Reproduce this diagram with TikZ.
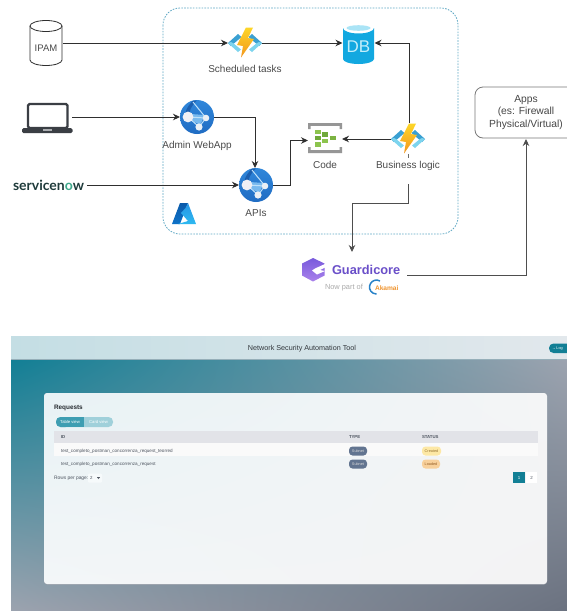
\documentclass[tikz,border=0pt]{standalone}
\usepackage{fontspec}
\setmainfont{Liberation Sans}
\newfontfamily\snfont{Lato}
\usetikzlibrary{arrows.meta,shadings}
\newcommand{\fsz}[1]{\fontsize{#1}{#1}\selectfont}
\definecolor{linegray}{HTML}{2F2F2F}
\definecolor{txt}{HTML}{4A4A4A}
\definecolor{dashblue}{HTML}{5FA8C4}
\definecolor{teal}{HTML}{127F95}
\definecolor{snow}{HTML}{1F3B3B}
\definecolor{snowgreen}{HTML}{3FA98C}
\definecolor{gpurple}{HTML}{6A4FC9}
\definecolor{rowtxt}{HTML}{4E5560}
\definecolor{hdrl}{HTML}{C4DEE4}
\definecolor{hdrr}{HTML}{E2E8EC}
\definecolor{bgur}{HTML}{9CA3AF}
\definecolor{bgll}{HTML}{9CA3AF}
\definecolor{bglr}{HTML}{6B7280}
\definecolor{panul}{HTML}{E8F2F5}
\definecolor{panur}{HTML}{F4F5F6}
\definecolor{panll}{HTML}{F3F6F8}
\definecolor{panlr}{HTML}{F3F3F4}
\tikzset{
  every node/.style={font=\fsz{10}, text=txt, inner sep=0pt, outer sep=0pt},
  conn/.style={draw=linegray, line width=0.9pt, -{Stealth[length=7pt,width=6.5pt]}},
  iconbox/.style={draw=none},
  tiny/.style={font=\fsz{4.6}, text=rowtxt},
  tinyb/.style={font=\bfseries\fsz{4.3}, text=rowtxt},
  pill/.style={rounded corners=3.5pt, minimum height=9pt, font=\fsz{3.8}},
  fnicon/.pic={
    \fill[fill={rgb,255:red,58;green,160;blue,210}] (-7,-9) -- (-17,0) -- (-14,3) -- (-3.5,-6) -- cycle;
    \fill[fill={rgb,255:red,125;green,212;blue,238}] (-17,0) -- (-7,9) -- (-4,6.5) -- (-12,0) -- (-14,-1) -- cycle;
    \fill[fill={rgb,255:red,58;green,160;blue,210}] (7,-9) -- (17,0) -- (14,3) -- (3.5,-6) -- cycle;
    \fill[fill={rgb,255:red,125;green,212;blue,238}] (17,0) -- (7,9) -- (4,6.5) -- (12,0) -- (14,-1) -- cycle;
    \shade[top color={rgb,255:red,253;green,214;blue,40}, bottom color={rgb,255:red,243;green,150;blue,30}]
      (1,-15.5) -- (-8,2) -- (-2,3) -- (-4,14.5) -- (9,-4) -- (3,-5) -- (8,-15.5) -- cycle;
  },
  webicon/.pic={
    \shade[top color={rgb,255:red,48;green,135;blue,218}, bottom color={rgb,255:red,32;green,108;blue,195}] (0,0) circle (17);
    \fill[fill={rgb,255:red,28;green,95;blue,175}] (-4,-16.5) .. controls (-12,-8) and (-12,-4) .. (-11,0) -- (-8,0) .. controls (-8,-6) and (-6,-11) .. (0,-16.5) -- cycle;
    \fill[fill={rgb,255:red,120;green,185;blue,238}] (-6,-3) -- (8,-2) -- (3,8) -- (-6,3) -- cycle;
    \draw[draw={rgb,255:red,190;green,225;blue,250}, line width=1pt] (-9,0) -- (9,1) -- (2,10) -- cycle;
    \draw[draw={rgb,255:red,190;green,225;blue,250}, line width=1pt] (-4,-15) -- (9,1);
    \fill[fill={rgb,255:red,240;green,240;blue,245}] (-9,0) circle (5.4);
    \fill[fill={rgb,255:red,235;green,240;blue,245}] (9,1) circle (3.3);
    \fill[fill={rgb,255:red,235;green,240;blue,245}] (2,10) circle (3.6);
  },
}
\begin{document}
\begin{tikzpicture}[x=1pt,y=-1pt]
\useasboundingbox (0,0) rectangle (567,611);
\fill[white] (0,0) rectangle (567,611);

% ---- container
\draw[draw=dashblue, line width=0.8pt, dash pattern=on 1.6pt off 1.3pt, rounded corners=17pt] (163,8) rectangle (458,234);

% ---- icon anchor nodes
\node[iconbox, minimum width=33pt, minimum height=45pt] (ipam) at (46,43) {};
\node[iconbox, minimum width=34pt, minimum height=34pt] (fna) at (245,43) {};
\node[iconbox, minimum width=32pt, minimum height=42pt] (db) at (358.5,43) {};
\node[iconbox, minimum width=50pt, minimum height=32pt] (laptop) at (47,118) {};
\node[iconbox, minimum width=34pt, minimum height=34pt] (admin) at (197,117) {};
\node[iconbox, minimum width=34pt, minimum height=34pt] (apis) at (256,185) {};
\node[iconbox, minimum width=34pt, minimum height=31pt] (code) at (325,139) {};
\node[iconbox, minimum width=34pt, minimum height=34pt] (biz) at (408,139) {};

% ---- IPAM cylinder
\draw[draw=linegray, fill=white, line width=0.8pt] (30,26) -- (30,60) arc[start angle=180,end angle=0,x radius=16,y radius=5.5] -- (62,26);
\draw[draw=linegray, fill=white, line width=0.8pt] (46,26) ellipse (16 and 5.5);
\node[font=\fsz{9.5}] (ipamtext) at (46,48.5) {IPAM};

% ---- functions
\pic at (fna) {fnicon};
\pic at (biz) {fnicon};
\node (fnalab) at (245,69) {Scheduled tasks};
\node (bizlab) at (408,165.5) {Business logic};

% ---- DB
\fill[fill={rgb,255:red,18;green,168;blue,224}] (343,28) -- (343,59) arc[start angle=180,end angle=0,x radius=15.5,y radius=5] -- (374,28) arc[start angle=0,end angle=180,x radius=15.5,y radius=5.5];
\fill[fill={rgb,255:red,170;green,228;blue,246}] (358.5,28) ellipse (12 and 2.8);
\node[font=\fsz{17}, text={rgb,255:red,195;green,238;blue,250}] (dbtext) at (358.5,47) {DB};

% ---- laptop
\draw[draw={rgb,255:red,58;green,62;blue,68}, fill=white, line width=2.2pt, rounded corners=1.5pt] (28,104) rectangle (67.5,128);
\fill[fill={rgb,255:red,58;green,62;blue,68}, rounded corners=1.5pt] (22,128) rectangle (72.5,133);
\fill[fill={rgb,255:red,170;green,172;blue,176}] (43,128.5) rectangle (52,130.5);

% ---- web apps
\pic at (admin) {webicon};
\pic at (apis) {webicon};
\node (adminlab) at (197,146) {Admin WebApp};
\node (apislab) at (256,213) {APIs};

% ---- servicenow
\node[font=\snfont\bfseries\fsz{14}, anchor=west, text=snow] (snow) at (13,185.5) {servicen\textcolor{snowgreen}{o}w};

% ---- Code icon
\fill[fill={rgb,255:red,150;green,150;blue,150}] (308,123) rectangle (342,125.8) (308,123) rectangle (310.5,129) (339.5,123) rectangle (342,129);
\fill[fill={rgb,255:red,150;green,150;blue,150}] (308,150.2) rectangle (342,153) (308,147) rectangle (310.5,153) (339.5,147) rectangle (342,153);
\foreach \cx/\cy/\cc in {318/132/8DC44E,318/138/6FA83A,318/144.5/8DC44E,325/134.5/6FA83A,325/141/8DC44E,333/138/7CB342}{
  \definecolor{cc}{HTML}{\cc}
  \fill[cc] (\cx-2.7,\cy-2.4) rectangle (\cx+2.7,\cy+2.4);
}
\node (codelab) at (325,164.5) {Code};

% ---- Azure logo
\shade[top color={rgb,255:red,10;green,90;blue,170}, bottom color={rgb,255:red,15;green,115;blue,200}] (180,203) -- (172,224) -- (180,224) -- (188,203) -- cycle;
\shade[top color={rgb,255:red,40;green,150;blue,230}, bottom color={rgb,255:red,45;green,185;blue,240}] (188,203) -- (196,224) -- (178,224) -- (188,221) -- (181,213) -- (185.5,208) -- cycle;

% ---- Guardicore
\shade[top color={rgb,255:red,120;green,90;blue,220}, bottom color={rgb,255:red,170;green,130;blue,235}]
  (313,258) -- (324.5,263.5) -- (324.5,275.5) -- (313,281.5) -- (302,275.5) -- (302,263.5) -- cycle;
\fill[white] (325,264) -- (315,268.5) -- (312,270.5) -- (317,274.5) -- (325,271) -- (320,270) -- (325,267.5) -- cycle;
\node[font=\bfseries\fsz{12.8}, text=gpurple, anchor=west] (guard) at (332,269.5) {Guardicore};
\node[font=\fsz{7.4}, text={rgb,255:red,170;green,170;blue,170}, anchor=west] (nowpart) at (325,288) {Now part of};
\draw[draw={rgb,255:red,40;green,130;blue,200}, line width=1.5pt] (380,281) arc[start angle=-60,end angle=-270,x radius=7,y radius=7];
\node[font=\bfseries\fsz{6.6}, text={rgb,255:red,240;green,150;blue,50}, anchor=west] (akamai) at (375,288.5) {Akamai};

% ---- Apps box
\draw[draw={rgb,255:red,120;green,120;blue,120}, line width=0.8pt, rounded corners=8pt, fill=white] (475,87) rectangle (590,138);
\node[minimum width=92pt, minimum height=51pt, anchor=north west, align=center, font=\fsz{10.3}, text={rgb,255:red,70;green,70;blue,70}] (apps) at (480,87) {Apps\\[1.8pt](es: Firewall\\[1.8pt]Physical/Virtual)};

% ---- connector free ends
\coordinate (bizout) at (408,184);
\coordinate (guardout) at (407,275);
\coordinate (laptopout) at (72,117);
\coordinate (snowout) at (87,185);
\coordinate (ipamout) at (63,43);

% ---- connectors
\draw[conn] (ipamout) -- (fna.west);
\draw[conn] (fna.east) -- (db.west);
\draw[conn] (409,123) -- (409,43) -- (db.east);
\draw[conn] (biz.west) -- (code.east);
\draw[conn] (apis.east) -- (290,185) -- (290,140.5) -- (code.west |- 0,140.5);
\draw[conn] (laptopout) -- (admin.west);
\draw[conn] (admin.east) -- (255,117) -- (apis.north -| 255,0);
\draw[conn] (snowout) -- (apis.west);
\draw[conn, draw=linegray!85] (bizout) -- (408,203) -- (352,203) -- (352,252);
\draw[conn, draw=linegray!85] (guardout) -- (526,275) -- (526,139);
\draw[draw=linegray!70, line width=0.8pt] (408,154) -- (408,158);

% ---- screenshot
\shade[left color=hdrl, right color=hdrr] (11,336) rectangle (567,360);
\shade[upper left=teal, upper right=bgur, lower left=bgll, lower right=bglr] (11,360) rectangle (567,611);
\fill[fill={rgb,255:red,150;green,175;blue,185}] (11,359.3) rectangle (567,360.3);
\node[font=\fsz{7.2}, text={rgb,255:red,50;green,55;blue,60}] (title) at (302,348.5) {Network Security Automation Tool};
\fill[fill=teal, rounded corners=4.5pt] (549,343.5) rectangle (585,353);
\node[font=\fsz{3.8}, text=white, anchor=west] (logout) at (552,348.3) {→\,Log};

% panel
\fill[fill={rgb,255:red,150;green,155;blue,165}, rounded corners=3pt] (44,393) rectangle (547,584.6);
\shade[rounded corners=3pt, upper left=panul, upper right=panur, lower left=panll, lower right=panlr] (44,393) rectangle (547,584);
\node[font=\bfseries\fsz{6.4}, text={rgb,255:red,40;green,45;blue,50}, anchor=west] (req) at (54,408) {Requests};
% toggle
\fill[fill={rgb,255:red,160;green,208;blue,218}, rounded corners=4.5pt] (56,417) rectangle (113,427);
\fill[fill={rgb,255:red,62;green,158;blue,178}, rounded corners=4.5pt] (56,417) rectangle (70,427);
\fill[fill={rgb,255:red,62;green,158;blue,178}] (65,417) rectangle (84,427);
\node[font=\fsz{4.2}, text=white] (tv) at (70,422) {Table view};
\node[font=\fsz{4.2}, text=white] (cv) at (98.5,422) {Card view};
% table
\fill[fill={rgb,255:red,226;green,227;blue,232}] (54,431) rectangle (538,443);
\fill[fill={rgb,255:red,250;green,250;blue,250}] (54,443) rectangle (538,456);
\node[tinyb, anchor=west] (hid) at (61,437.5) {ID};
\node[tinyb, anchor=west] (htype) at (349,437.5) {TYPE};
\node[tinyb, anchor=west] (hstatus) at (422,437.5) {STATUS};
\node[tiny, anchor=west] (r1) at (61,451) {test\_completo\_postman\_concorrenza\_request\_teorred};
\node[tiny, anchor=west] (r2) at (61,464.5) {test\_completo\_postman\_concorrenza\_request};
\node[pill, fill={rgb,255:red,98;green,116;blue,144}, text=white!85!black, minimum width=18pt] (p1) at (358,451) {Subnet};
\node[pill, fill={rgb,255:red,98;green,116;blue,144}, text=white!85!black, minimum width=18pt] (p2) at (358,464) {Subnet};
\node[pill, fill={rgb,255:red,253;green,232;blue,165}, text={rgb,255:red,150;green,115;blue,50}, minimum width=19pt] (s1) at (431.5,451) {Created};
\node[pill, fill={rgb,255:red,248;green,208;blue,155}, text={rgb,255:red,150;green,95;blue,40}, minimum width=18pt] (s2) at (431,464) {Loaded};
\node[font=\fsz{4.9}, text=rowtxt, anchor=west] (rows) at (54,478) {Rows per page:};
\fill[fill=white!60!panul, rounded corners=1pt] (88,473.5) rectangle (102,482.5);
\node[font=\fsz{4.4}, text=rowtxt, anchor=west] (rowsval) at (90,478) {2};
\fill[rowtxt] (97,477.2) -- (100,477.2) -- (98.5,479) -- cycle;
\node[fill=teal, minimum width=12pt, minimum height=11.5pt, font=\fsz{4.4}, text=white] (pg1) at (519,477.5) {1};
\node[fill=white, minimum width=11pt, minimum height=11.5pt, font=\fsz{4.4}, text=rowtxt] (pg2) at (531.5,477.5) {2};
\end{tikzpicture}
\end{document}
